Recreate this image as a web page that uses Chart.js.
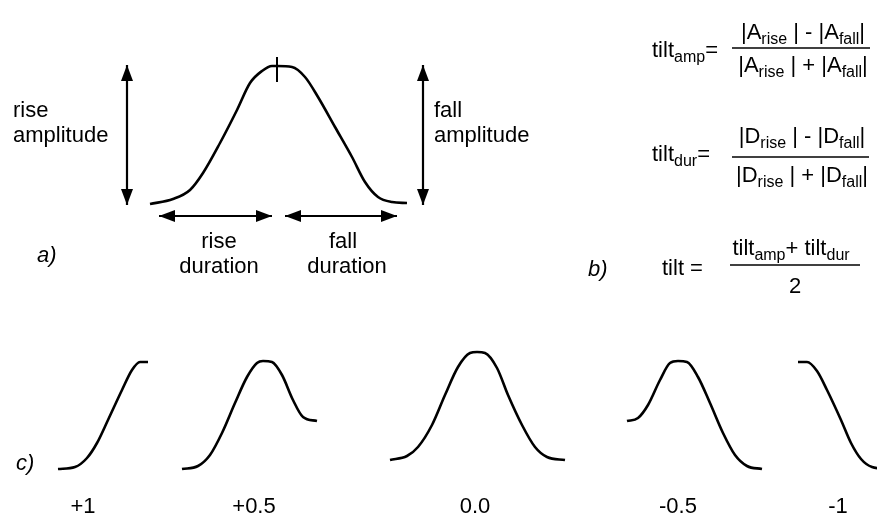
<!DOCTYPE html>
<html><head><meta charset="utf-8">
<script src="https://cdn.jsdelivr.net/npm/chart.js@4"></script>
<style>html,body{margin:0;padding:0;background:#fff}#wrap{width:877px;height:517px;position:relative}</style>
</head><body><div id="wrap"><canvas id="c"></canvas></div>
<script>
// ---------- DATA ----------
// panel a: the example event curve (x, y in diagram units)
const curveMain = [[150,204],[173,199],[190,190],[203,173],[220,143],[237,110],[250,83],[262,71],[272,66],[277,66],[292,67],[305,77],[318,97],[335,127],[352,157],[365,182],[378,197],[392,202],[407,203]];
const peakTick = [[277,57],[277,82]];
// amplitude / duration arrows (tip to tip)
const riseAmpArrow = [[127,65],[127,205]];
const fallAmpArrow = [[423,65],[423,205]];
const riseDurArrow = [[159,216],[272,216]];
const fallDurArrow = [[285,216],[397,216]];
// panel b: fraction bars
const ampBar = [[732,48],[870,48]];
const durBar = [[732,157],[869,157]];
const tiltBar = [[730,265],[860,265]];
// panel c: events for different tilt values
const tiltValues = ['+1','+0.5','0.0','-0.5','-1'];
const curvePlus1 = [[58,469],[75,467],[87,458],[97,443],[108,420],[122,390],[132,370],[140,362],[148,362]];
const curvePlus05 = [[182,469],[198,466],[210,455],[222,433],[235,403],[247,377],[257,363],[263,361],[272,362],[282,375],[293,400],[303,417],[317,421]];
const curveZero = [[390,460],[407,456],[418,447],[432,425],[445,395],[458,367],[470,353],[477,352],[485,353],[497,368],[508,395],[522,425],[535,447],[547,457],[565,460]];
const curveMinus05 = [[627,421],[638,418],[648,405],[660,380],[670,363],[678,361],[687,362],[698,377],[710,403],[723,433],[735,455],[747,466],[762,469]];
const curveMinus1 = [[798,362],[807,362],[817,371],[827,390],[841,420],[851,443],[861,459],[872,467],[889,469]];
// text
const panelLabels = ['a)','b)','c)'];
const ampLabel = ['rise','amplitude','fall','amplitude'];
const durLabel = ['rise','duration','fall','duration'];
const formulaAmp = ['tilt_{amp}=','|A_{rise} | - |A_{fall}|','|A_{rise} | + |A_{fall}|'];
const formulaDur = ['tilt_{dur}=','|D_{rise} | - |D_{fall}|','|D_{rise} | + |D_{fall}|'];
const formulaTilt = ['tilt = ','tilt_{amp}+ tilt_{dur}','2'];

// ---------- LAYOUT / STYLE ----------
const FONT = '"Liberation Sans", Arial, Helvetica, sans-serif';
const MAIN = 22, SUB = 16, SUBDROP = 5;
const textLayout = [
  {s: ampLabel[0], x: 13, y: 117, a: 'left'},
  {s: ampLabel[1], x: 13, y: 142, a: 'left'},
  {s: ampLabel[2], x: 434, y: 117, a: 'left'},
  {s: ampLabel[3], x: 434, y: 142, a: 'left'},
  {s: durLabel[0], x: 219, y: 248, a: 'center'},
  {s: durLabel[1], x: 219, y: 273, a: 'center'},
  {s: durLabel[2], x: 343, y: 248, a: 'center'},
  {s: durLabel[3], x: 347, y: 273, a: 'center'},
  {s: panelLabels[0], x: 37, y: 262, a: 'left', it: true},
  {s: panelLabels[1], x: 588, y: 276, a: 'left', it: true},
  {s: panelLabels[2], x: 16, y: 470, a: 'left', it: true},
  {s: formulaAmp[0], x: 652, y: 57, a: 'left'},
  {s: formulaAmp[1], x: 803, y: 39, a: 'center'},
  {s: formulaAmp[2], x: 803, y: 72, a: 'center'},
  {s: formulaDur[0], x: 652, y: 161, a: 'left'},
  {s: formulaDur[1], x: 802, y: 143, a: 'center'},
  {s: formulaDur[2], x: 802, y: 182, a: 'center'},
  {s: formulaTilt[0], x: 662, y: 275, a: 'left'},
  {s: formulaTilt[1], x: 791, y: 255, a: 'center'},
  {s: formulaTilt[2], x: 795, y: 293, a: 'center'}
];
const valueX = [83, 254, 475, 678, 838];
tiltValues.forEach((v, i) => textLayout.push({s: v, x: valueX[i], y: 513, a: 'center'}));

// ---------- BUILD ----------
const pts = arr => arr.map(([x, y]) => ({x, y}));
const curve = arr => ({data: pts(arr), showLine: true, borderColor: '#000', borderWidth: 2.6, pointRadius: 0, fill: false, cubicInterpolationMode: 'monotone'});
const seg = (arr, w) => ({data: pts(arr), showLine: true, borderColor: '#000', borderWidth: w, pointRadius: 0, fill: false, tension: 0, borderCapStyle: 'butt'});
const arrow = arr => Object.assign(seg(arr, 2.2), {arrow: true});

const datasets = [
  curve(curveMain), seg(peakTick, 2),
  arrow(riseAmpArrow), arrow(fallAmpArrow), arrow(riseDurArrow), arrow(fallDurArrow),
  seg(ampBar, 1.5), seg(durBar, 1.5), seg(tiltBar, 1.5),
  curve(curvePlus1), curve(curvePlus05), curve(curveZero), curve(curveMinus05), curve(curveMinus1)
];

function parseRich(s) {
  const out = []; const re = /_\{([^}]*)\}/g; let last = 0, m;
  while ((m = re.exec(s))) {
    if (m.index > last) out.push({t: s.slice(last, m.index), sub: false});
    out.push({t: m[1], sub: true}); last = re.lastIndex;
  }
  if (last < s.length) out.push({t: s.slice(last), sub: false});
  return out;
}

const arrowPlugin = {
  id: 'arrowheads',
  afterDatasetsDraw(chart) {
    const ctx = chart.ctx;
    chart.data.datasets.forEach((ds, i) => {
      if (!ds.arrow) return;
      const d = chart.getDatasetMeta(i).data;
      const ends = [[d[0], d[d.length - 1]], [d[d.length - 1], d[0]]];
      ends.forEach(([tip, other]) => {
        const dx = tip.x - other.x, dy = tip.y - other.y, L = Math.hypot(dx, dy);
        const ux = dx / L, uy = dy / L, len = 16, hw = 6;
        const bx = tip.x - ux * len, by = tip.y - uy * len;
        ctx.save(); ctx.fillStyle = '#000'; ctx.beginPath();
        ctx.moveTo(tip.x, tip.y);
        ctx.lineTo(bx - uy * hw, by + ux * hw);
        ctx.lineTo(bx + uy * hw, by - ux * hw);
        ctx.closePath(); ctx.fill(); ctx.restore();
      });
    });
  }
};

const textPlugin = {
  id: 'texts',
  afterDraw(chart) {
    const ctx = chart.ctx, sx = chart.scales.x, sy = chart.scales.y;
    ctx.save(); ctx.fillStyle = '#000'; ctx.textBaseline = 'alphabetic'; ctx.textAlign = 'left';
    textLayout.forEach(item => {
      const parts = parseRich(item.s);
      const st = item.it ? 'italic ' : '';
      let w = 0;
      parts.forEach(p => { ctx.font = st + (p.sub ? SUB : MAIN) + 'px ' + FONT; p.w = ctx.measureText(p.t).width; w += p.w; });
      let x = sx.getPixelForValue(item.x); const y = sy.getPixelForValue(item.y);
      if (item.a === 'center') x -= w / 2; else if (item.a === 'right') x -= w;
      parts.forEach(p => {
        ctx.font = st + (p.sub ? SUB : MAIN) + 'px ' + FONT;
        ctx.fillText(p.t, x, y + (p.sub ? SUBDROP : 0));
        x += p.w;
      });
    });
    ctx.restore();
  }
};

new Chart(document.getElementById('c'), {
  type: 'scatter',
  data: {datasets},
  options: {
    responsive: true, maintainAspectRatio: false, animation: false,
    layout: {padding: 0},
    plugins: {legend: {display: false}, tooltip: {enabled: false}, title: {display: false}},
    scales: {
      x: {type: 'linear', min: 0, max: 877, display: false},
      y: {type: 'linear', min: 0, max: 517, reverse: true, display: false}
    },
    events: []
  },
  plugins: [arrowPlugin, textPlugin]
});
</script></body></html>
